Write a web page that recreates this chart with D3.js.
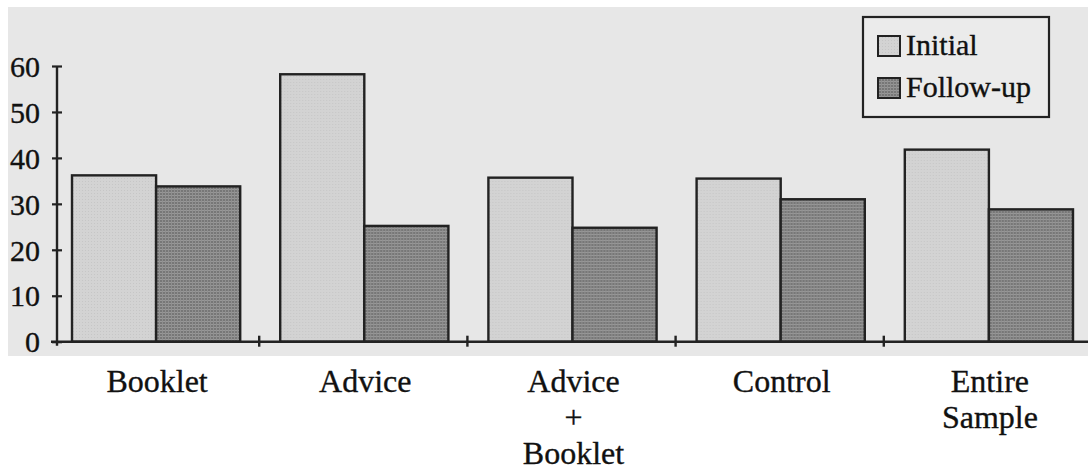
<!DOCTYPE html>
<html>
<head>
<meta charset="utf-8">
<script src="https://cdn.jsdelivr.net/npm/d3@7"></script>
<style>
  html, body { margin: 0; padding: 0; background: #ffffff; }
  svg { display: block; }
  text { font-family: "Liberation Serif", "Times New Roman", serif; fill: #111111; stroke: #111111; stroke-width: 0.35px; }
</style>
</head>
<body>
<svg id="chart" width="1088" height="474"></svg>
<script>
// Groups along the x axis (multi-line labels split on "\n")
const categories = ["Booklet", "Advice", "Advice\n+\nBooklet", "Control", "Entire\nSample"];
const seriesNames = ["Initial", "Follow-up"];
const initialValues = [36.2, 58.2, 35.7, 35.5, 41.8];
const followUpValues = [33.8, 25.2, 24.8, 31.0, 28.8];
const yTicks = [0, 10, 20, 30, 40, 50, 60];

const rows = categories.map((c, i) => ({
  category: c,
  values: [
    { series: seriesNames[0], value: initialValues[i] },
    { series: seriesNames[1], value: followUpValues[i] }
  ]
}));

const svg = d3.select("#chart");
const ink = "#222222";

// Patterned fills for the two series
const defs = svg.append("defs");
const pLight = defs.append("pattern").attr("id", "fillInitial")
  .attr("patternUnits", "userSpaceOnUse").attr("width", 3).attr("height", 3);
pLight.append("rect").attr("width", 3).attr("height", 3).attr("fill", "#d3d3d3");
pLight.append("rect").attr("x", 1).attr("y", 1).attr("width", 1).attr("height", 1).attr("fill", "#c6c6c6");

const pDark = defs.append("pattern").attr("id", "fillFollow")
  .attr("patternUnits", "userSpaceOnUse").attr("width", 3).attr("height", 3);
pDark.append("rect").attr("width", 3).attr("height", 3).attr("fill", "#777777");
pDark.append("rect").attr("width", 3).attr("height", 1).attr("fill", "#989898");
pDark.append("rect").attr("width", 1).attr("height", 3).attr("fill", "#8f8f8f");

const fills = d3.scaleOrdinal().domain(seriesNames).range(["url(#fillInitial)", "url(#fillFollow)"]);

// Plot panel background
svg.append("rect").attr("x", 8).attr("y", 7).attr("width", 1080).attr("height", 349)
  .attr("fill", "#e7e7e7");

// Scales
const y = d3.scaleLinear().domain([0, 60]).range([341.7, 66]);
const x0 = d3.scaleBand().domain(categories).range([51, 1092]).padding(0);
const x1 = d3.scaleBand().domain(seriesNames).range([21, x0.bandwidth() - 19]).padding(0);

// Bars
const groups = svg.append("g").selectAll("g").data(rows).join("g")
  .attr("transform", d => `translate(${x0(d.category)},0)`);

groups.selectAll("rect").data(d => d.values).join("rect")
  .attr("x", d => x1(d.series))
  .attr("y", d => y(d.value))
  .attr("width", x1.bandwidth())
  .attr("height", d => y(0) - y(d.value))
  .attr("fill", d => fills(d.series))
  .attr("stroke", ink)
  .attr("stroke-width", 2.4);

// Y axis
const yAxis = svg.append("g").attr("transform", "translate(57,0)")
  .call(d3.axisLeft(y).tickValues(yTicks).tickSize(5).tickPadding(12).tickFormat(d3.format("d")));
yAxis.select(".domain").remove();
yAxis.append("line").attr("x1", 0).attr("x2", 0).attr("y1", y(60)).attr("y2", y(0) + 4)
  .attr("stroke", ink).attr("stroke-width", 2.4);
yAxis.selectAll(".tick line").attr("x1", -5).attr("x2", 5).attr("stroke", ink).attr("stroke-width", 2.2);
yAxis.selectAll(".tick text")
  .attr("font-size", 30)
  .attr("dy", "0.34em");

// X axis line with ticks at the boundaries between groups
svg.append("line").attr("x1", 51).attr("x2", 1088).attr("y1", y(0)).attr("y2", y(0))
  .attr("stroke", ink).attr("stroke-width", 2.4);
svg.append("g").selectAll("line").data(categories.slice(1)).join("line")
  .attr("x1", d => x0(d)).attr("x2", d => x0(d))
  .attr("y1", y(0) - 6).attr("y2", y(0) + 5)
  .attr("stroke", ink).attr("stroke-width", 2.4);

// Category labels
const labels = svg.append("g").selectAll("text").data(categories).join("text")
  .attr("x", d => x0(d) + x0.bandwidth() / 2 + 2)
  .attr("y", 392)
  .attr("text-anchor", "middle")
  .attr("font-size", 32);
labels.each(function(d) {
  const t = d3.select(this);
  const cx = t.attr("x");
  d.split("\n").forEach((line, i) => {
    t.append("tspan").attr("x", cx).attr("dy", i === 0 ? 0 : 36).text(line);
  });
});

// Legend
const legend = svg.append("g");
legend.append("rect").attr("x", 863).attr("y", 17).attr("width", 186).attr("height", 100)
  .attr("fill", "#ebebeb").attr("stroke", ink).attr("stroke-width", 2.2);
const items = legend.selectAll("g").data(seriesNames).join("g")
  .attr("transform", (d, i) => `translate(878,${36 + i * 42})`);
items.append("rect").attr("width", 22).attr("height", 20)
  .attr("fill", d => fills(d)).attr("stroke", ink).attr("stroke-width", 2);
items.append("text").attr("x", 28).attr("y", 19).attr("font-size", 30).text(d => d);
</script>
</body>
</html>
